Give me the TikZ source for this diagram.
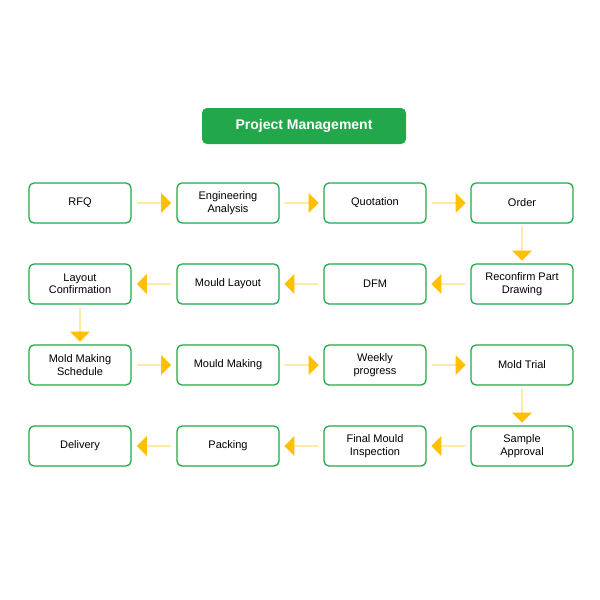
\documentclass[tikz,border=0pt]{standalone}
\usepackage{fontspec}
\setmainfont{Liberation Sans}
\usetikzlibrary{shapes.arrows}
\definecolor{gr}{HTML}{22A84A}
\definecolor{ar}{HTML}{FFC000}
\begin{document}
\begin{tikzpicture}[x=1pt,y=-1pt,
 box/.style={draw=gr,line width=1.3pt,rounded corners=5pt,minimum width=102pt,minimum height=40pt,align=center,font=\fontsize{11}{12.5}\selectfont,inner sep=1pt},
 arr/.style={single arrow,fill=ar,draw=none,minimum height=34pt,minimum width=20pt,single arrow head extend=5pt,inner sep=0pt,single arrow tip angle=90}]
\useasboundingbox (0,0) rectangle (600,600);
\node[fill=gr,rounded corners=5pt,minimum width=204pt,minimum height=36pt,text=white,font=\fontsize{14}{16}\selectfont\bfseries] (t) at (304,126) {Project Management};
\foreach \n/\x/\y/\t in {a/80/203/RFQ,b/228/203/{Engineering\\Analysis},c/375/203/Quotation,d/522/203/Order,
 h/80/284/{Layout\\Confirmation},g/228/284/{Mould Layout},f/375/284/DFM,e/522/284/{Reconfirm Part\\Drawing},
 i/80/365/{Mold Making\\Schedule},j/228/365/{Mould Making},k/375/365/{Weekly\\progress},l/522/365/{Mold Trial},
 p/80/446/Delivery,o/228/446/Packing,n/375/446/{Final Mould\\Inspection},m/522/446/{Sample\\Approval}}
 \node[box] (\n) at (\x,\y) {\t};
\foreach \u/\v in {a/b,b/c,c/d,i/j,j/k,k/l}
 \path (\u.east) -- node[arr] {} (\v.west);
\foreach \u/\v in {e/f,f/g,g/h,m/n,n/o,o/p}
 \path (\u.west) -- node[arr,shape border rotate=180] {} (\v.east);
\foreach \u/\v in {d/e,h/i,l/m}
 \path (\u.south) -- node[arr,shape border rotate=270] {} (\v.north);
\end{tikzpicture}
\end{document}
